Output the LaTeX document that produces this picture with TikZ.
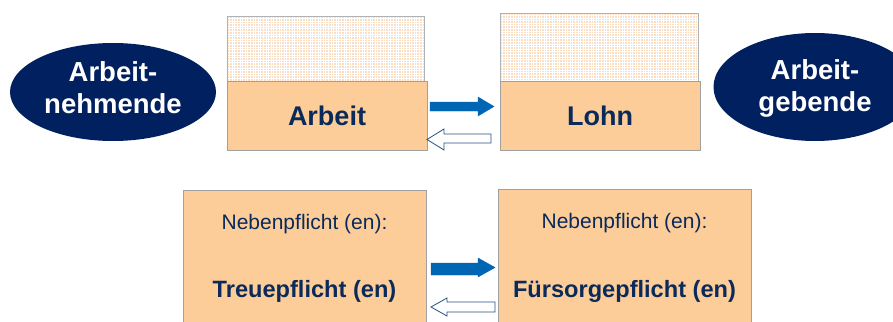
\documentclass[tikz,border=0pt]{standalone}
\usepackage{fontspec}
\setmainfont{Liberation Sans}
\usetikzlibrary{shapes.geometric}
\definecolor{navy}{RGB}{0,32,96}
\definecolor{inktext}{RGB}{10,42,90}
\definecolor{peach}{RGB}{252,204,153}
\definecolor{peachlight}{RGB}{251,222,194}
\definecolor{framegrey}{RGB}{160,160,160}
\definecolor{arrowblue}{RGB}{0,102,179}
\definecolor{arrowline}{RGB}{40,80,130}
\tikzset{
  x=1pt, y=-1pt,
  party/.style={ellipse, fill=navy, draw=none, inner sep=0pt},
  partytext/.style={text=white, font=\fontsize{27.5}{32}\selectfont\bfseries, align=center, inner sep=0pt},
  duty/.style={rectangle, fill=peach, draw=framegrey, line width=0.8pt, inner sep=0pt},
  dutytext/.style={text=inktext, font=\fontsize{27}{32}\selectfont\bfseries, inner sep=0pt},
  sidetext/.style={text=inktext, font=\fontsize{21}{25}\selectfont, inner sep=0pt, anchor=base},
  maintext/.style={text=inktext, font=\fontsize{23.6}{28}\selectfont\bfseries, inner sep=0pt, anchor=base},
  fullarrow/.style={fill=arrowblue, draw=arrowblue, line width=0.4pt},
  hollowarrow/.style={fill=white, draw=arrowline, line width=0.8pt, line join=miter},
}
% textured panel above a box: light peach with a fine white grid
\newcommand{\texturedpanel}[4]{%
  \begin{scope}
    \clip (#1,#2) rectangle (#3,#4);
    \fill[peachlight] (#1,#2) rectangle (#3,#4);
    \foreach \gx in {0,2.6,...,200} \draw[white, line width=1pt] (#1+\gx,#2) -- (#1+\gx,#4);
    \foreach \gy in {0,2.6,...,70} \draw[white, line width=1pt] (#1,#2+\gy) -- (#3,#2+\gy);
  \end{scope}
  \draw[framegrey!80, line width=0.6pt] (#1,#4) -- (#1,#2) -- (#3,#2) -- (#3,#4);
}
\begin{document}
\begin{tikzpicture}
\useasboundingbox (0,0) rectangle (893,321);
\clip (0,0) rectangle (893,321);

% the two parties
\node[party, minimum width=206pt, minimum height=98pt] (nehmer) at (113,92) {};
\node[partytext] (nehmertext) at (113,88) {Arbeit-\\nehmende};
\node[party, minimum width=203pt, minimum height=108pt] (geber) at (815,87) {};
\node[partytext] (gebertext) at (815,88) {Arbeit-\\gebende};

% main obligations
\texturedpanel{227}{16}{424}{81}
\texturedpanel{500}{13}{698}{81}
\node[duty, minimum width=200pt, minimum height=69pt] (arbeit) at (327,115.5) {};
\node[dutytext] at (arbeit.center) {Arbeit};
\node[duty, minimum width=200pt, minimum height=69pt] (lohn) at (600,115.5) {};
\node[dutytext] at (lohn.center) {Lohn};

% exchange arrows, top
\draw[fullarrow] (430,102) -- (478,102) -- (478,97) -- (494,106.5) -- (478,116) -- (478,111) -- (430,111) -- cycle;
\draw[hollowarrow] (491,134) -- (444,134) -- (444,129) -- (427,139.5) -- (444,150) -- (444,143) -- (491,143) -- cycle;

% side obligations
\node[duty, minimum width=243pt, minimum height=140pt, anchor=north west] (treue) at (183,190) {};
\node[sidetext] at (304.5,229) {Nebenpflicht (en):};
\node[maintext] at (304.5,297) {Treuepflicht (en)};
\node[duty, minimum width=253pt, minimum height=140pt, anchor=north west] (fuersorge) at (498,189) {};
\node[sidetext] at (624.5,228) {Nebenpflicht (en):};
\node[maintext] at (624.5,297) {Fürsorgepflicht (en)};

% exchange arrows, bottom
\draw[fullarrow] (431,263) -- (478,263) -- (478,258) -- (495,267.5) -- (478,277) -- (478,275) -- (431,275) -- cycle;
\draw[hollowarrow] (495,302) -- (447,302) -- (447,298) -- (431,307) -- (447,316) -- (447,312) -- (495,312) -- cycle;
\end{tikzpicture}
\end{document}
